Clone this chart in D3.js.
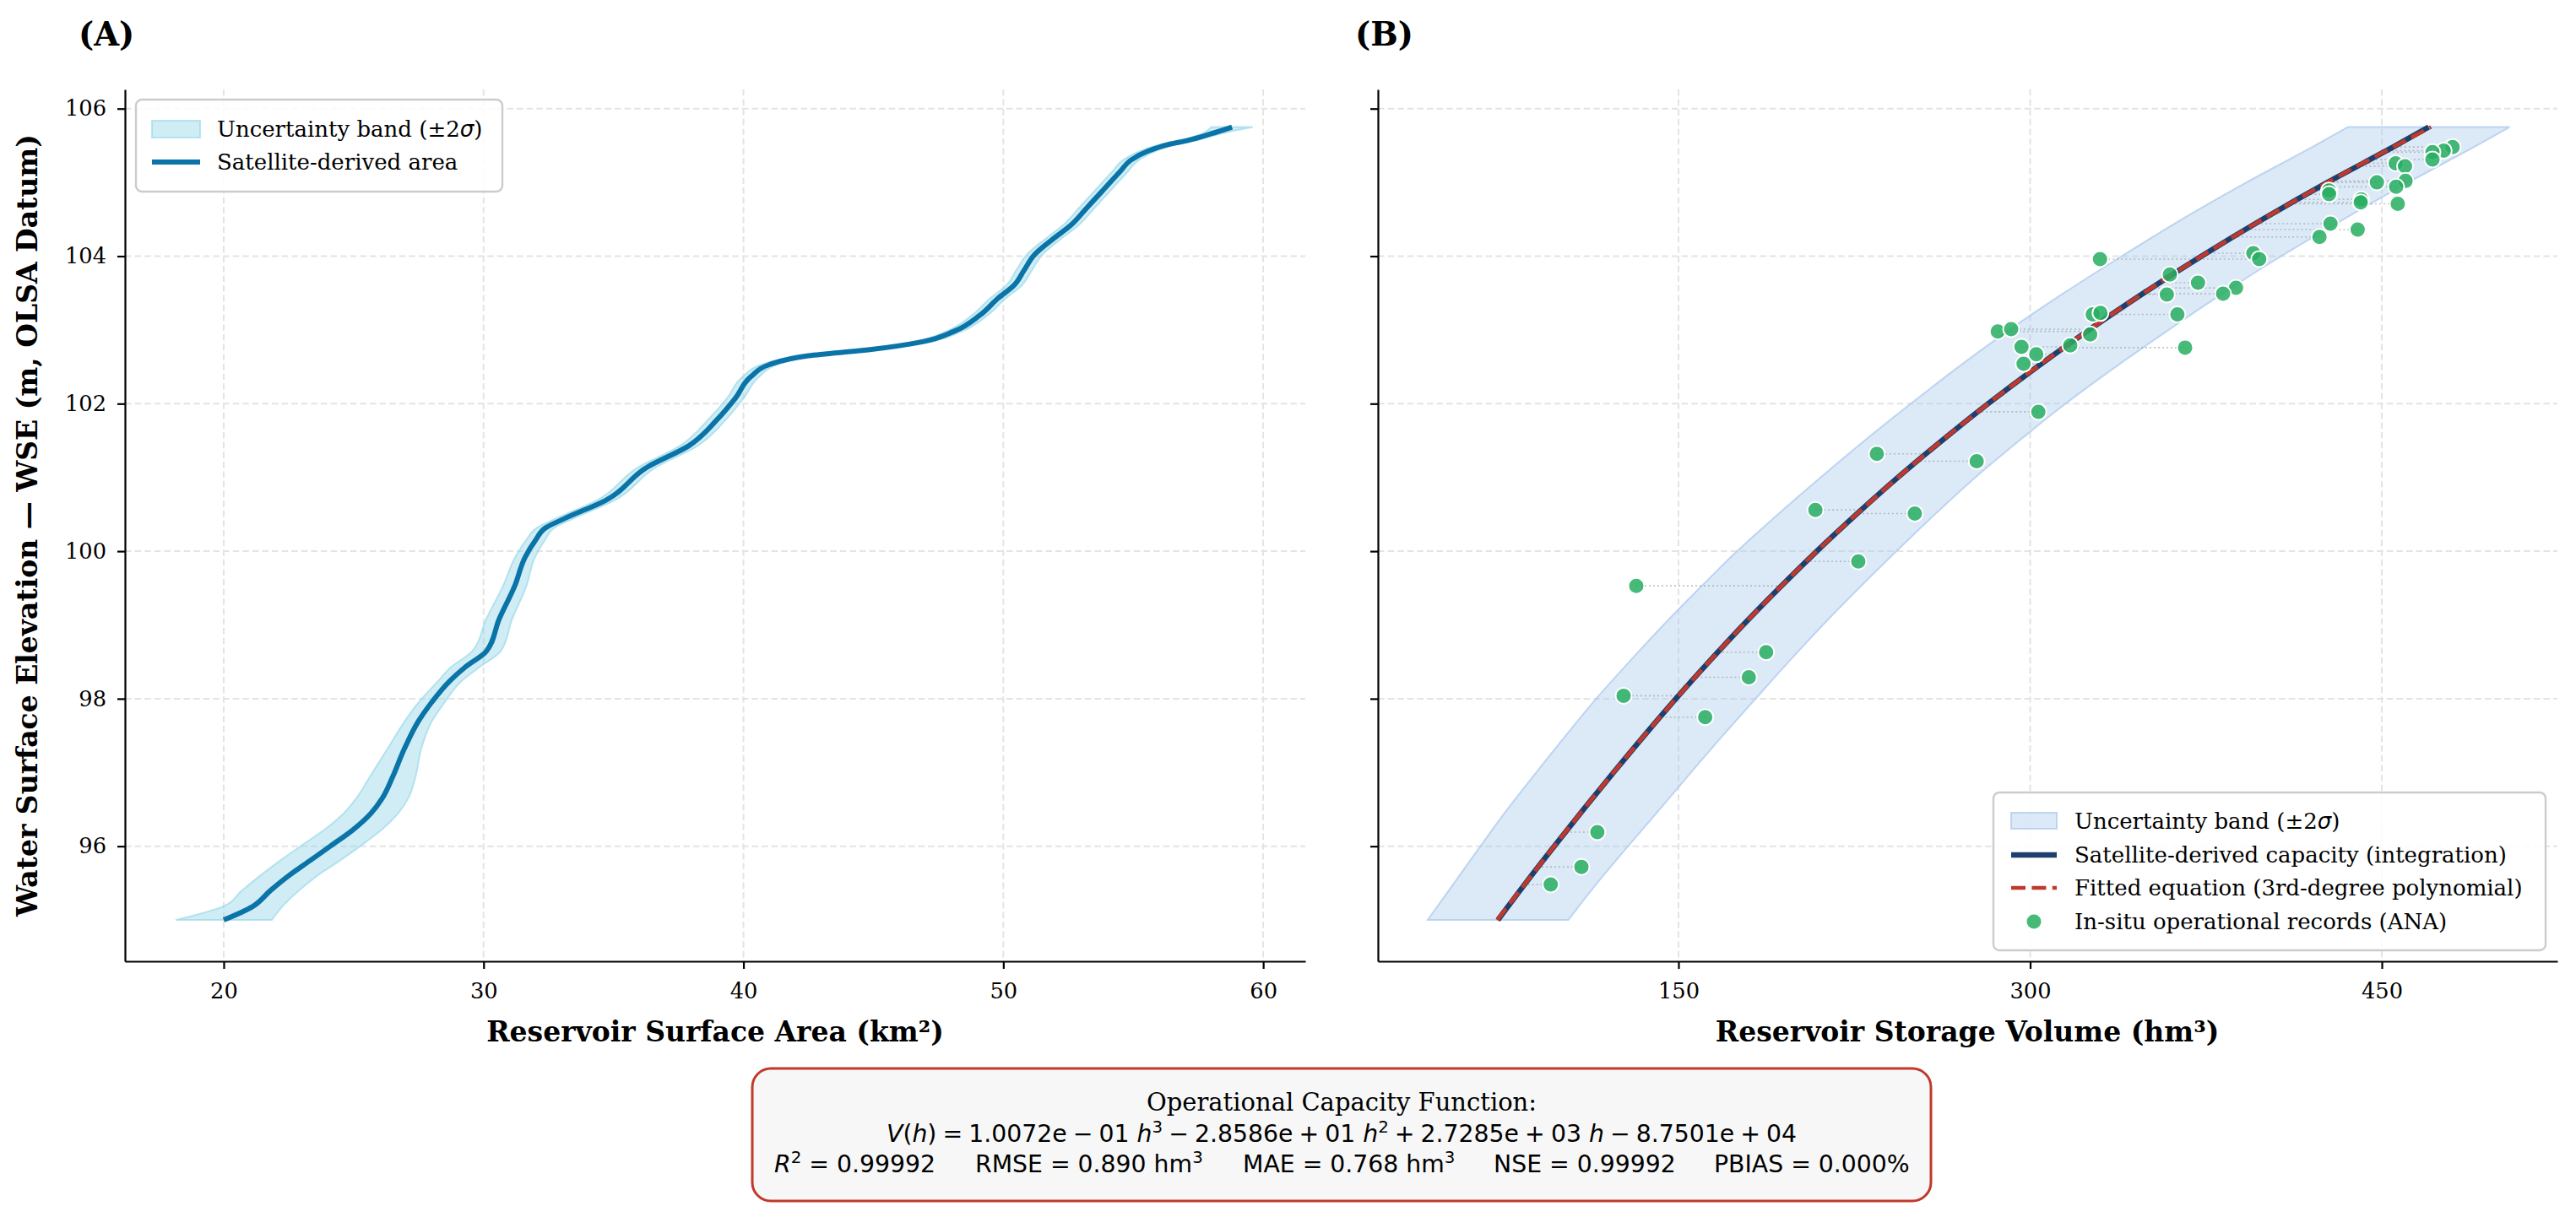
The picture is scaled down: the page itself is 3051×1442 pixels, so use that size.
<!DOCTYPE html>
<html lang="en">
  <head>
    <meta charset="utf-8">
    <title>Stage-area and stage-capacity curves</title>
    <script src="https://cdn.jsdelivr.net/npm/d3@7"></script>
    <style>
      body { margin: 0; background: #fff; }
      svg { display: block; background: #fff; }
      .axis text { font-family: 'DejaVu Serif', serif; font-size: 25.7px; fill: #000; }
      .axis path, .axis line { stroke: #000; stroke-width: 2.2; }
      .grid line { stroke: #e4e4e4; stroke-width: 2; stroke-dasharray: 7.6 4; }
      .label { font-family: 'DejaVu Serif', serif; font-weight: bold; font-size: 33px; }
      .panel { font-family: 'DejaVu Serif', serif; font-weight: bold; font-size: 38.5px; }
      .legend text { font-family: 'DejaVu Serif', serif; font-size: 26px; }
      .math { font-family: 'DejaVu Sans', sans-serif; font-size: 28.3px; white-space: pre; }
    </style>
  </head>

  <body>
    <svg></svg>

    <script>
    // Panel A: satellite-derived stage-area curve (WSE m, area km2) and its 2-sigma half width
    const areaStage = [95.0, 95.18, 95.4, 95.6, 95.8, 96.0, 96.23, 96.44, 96.65, 96.94,
      97.32, 97.7, 97.95, 98.24, 98.43, 98.64, 99.08, 99.53, 99.92, 100.15,
      100.32, 100.44, 100.69, 101.14, 101.43, 101.79, 102.08, 102.37, 102.53, 102.65,
      102.73, 102.84, 102.98, 103.2, 103.43, 103.6, 103.81, 104.02, 104.23, 104.42,
      104.65, 104.88, 105.15, 105.3, 105.43, 105.51, 105.57, 105.66, 105.75]
    const areaValue = [20.0, 21.1, 21.8, 22.5, 23.3, 24.1, 25.0, 25.65, 26.1, 26.5,
      26.95, 27.5, 28.0, 28.7, 29.3, 30.1, 30.6, 31.2, 31.6, 32.0,
      32.4, 33.1, 34.7, 36.3, 37.9, 39.0, 39.7, 40.3, 41.0, 42.5,
      44.8, 46.9, 48.1, 49.1, 49.8, 50.4, 50.8, 51.2, 51.9, 52.6,
      53.2, 53.8, 54.5, 54.9, 55.6, 56.3, 57.1, 58.0, 58.8]
    const areaBand = [1.85, 1.15, 1.1, 1.1, 1.15, 1.15, 1.1, 1.05, 1.0, 0.88,
      0.65, 0.52, 0.5, 0.45, 0.55, 0.55, 0.5, 0.45, 0.38, 0.36,
      0.34, 0.34, 0.34, 0.34, 0.34, 0.34, 0.32, 0.32, 0.3, 0.3,
      0.3, 0.3, 0.3, 0.3, 0.3, 0.3, 0.3, 0.3, 0.3, 0.3,
      0.3, 0.3, 0.3, 0.3, 0.3, 0.3, 0.3, 0.35, 0.8]

    // Panel B: capacity from integration, fitted polynomial, 2-sigma half width (hm3)
    const capStage = [95, 95.5, 96, 96.5, 97, 97.5, 98, 98.5, 99, 99.5, 100, 100.5,
      101, 101.5, 102, 102.5, 103, 103.5, 104, 104.5, 105, 105.5, 105.75]
    const satVolume = [73.0, 84.8, 97.0, 109.5, 122.3, 135.4, 148.9, 163.0, 177.6, 193.0, 209.0, 225.9,
      243.6, 262.4, 282.1, 303.0, 325.1, 348.4, 373.1, 399.2, 426.8, 456.0, 470.0]
    const fitVolume = [72.7, 84.8, 97.0, 109.5, 122.3, 135.4, 148.9, 163.0, 177.6, 193.0, 209.0, 225.9,
      243.6, 262.4, 282.1, 303.0, 325.1, 348.4, 373.1, 399.2, 426.8, 456.0, 471.0]
    const capBand = [30, 30.5, 31.5, 32.5, 33, 33.5, 34, 34, 34, 34, 34, 33.5,
      33, 33, 33, 33.5, 34, 34, 34, 34.5, 34.5, 34.5, 34.5]

    // In-situ operational records (ANA)
    const obsVolume = [480.2, 476.4, 471.6, 471.6, 455.9, 459.9, 460.1, 447.9, 456.1, 427.5,
      427.5, 441.2, 441.0, 456.8, 428.1, 439.7, 423.4, 329.8, 395.2, 397.7,
      359.6, 371.6, 387.8, 358.3, 382.3, 326.7, 330.0, 362.8, 286.2, 291.9,
      325.6, 296.3, 302.6, 297.2, 317.1, 366.1, 303.5, 234.6, 277.2, 208.4,
      250.8, 226.7, 132.0, 187.4, 180.0, 126.6, 161.4, 115.4, 108.6, 95.5]
    const obsStage = [105.48, 105.43, 105.41, 105.31, 105.26, 105.22, 105.02, 105.00, 104.94, 104.89,
      104.84, 104.77, 104.73, 104.71, 104.44, 104.36, 104.26, 103.96, 104.04, 103.96,
      103.75, 103.64, 103.57, 103.48, 103.49, 103.21, 103.23, 103.21, 102.98, 103.01,
      102.94, 102.77, 102.67, 102.54, 102.79, 102.76, 101.89, 101.32, 101.22, 100.56,
      100.51, 99.86, 99.53, 98.63, 98.29, 98.04, 97.75, 96.19, 95.72, 95.48]

    const yTicks = [96, 98, 100, 102, 104, 106]
    const areaTicks = [20, 30, 40, 50, 60]
    const volumeTicks = [150, 300, 450]

    const W = 3051, H = 1442
    const plotTop = 106, plotBottom = 1139

    const svg = d3.select('svg')
      .attr('width', W)
      .attr('height', H)

    const y = d3.scaleLinear().domain([94.44, 106.26]).range([plotBottom, plotTop])
    const xA = d3.scaleLinear().domain([16.2, 61.62]).range([148, 1546])
    const xV = d3.scaleLinear().domain([21.8, 524.9]).range([1632, 3029])

    function grid(x, ticks) {
      const g = svg.append('g').attr('class', 'grid')
      g.selectAll('.gx').data(ticks).join('line')
        .attr('x1', d => x(d)).attr('x2', d => x(d))
        .attr('y1', plotTop).attr('y2', plotBottom)
      g.selectAll('.gy').data(yTicks).join('line')
        .attr('x1', x.range()[0]).attr('x2', x.range()[1])
        .attr('y1', d => y(d)).attr('y2', d => y(d))
    }

    function axes(x, ticks, showY) {
      svg.append('g')
        .attr('class', 'axis')
        .attr('transform', `translate(0, ${plotBottom})`)
        .call(d3.axisBottom(x).tickValues(ticks).tickSize(9).tickSizeOuter(0).tickPadding(17))
      const ay = svg.append('g')
        .attr('class', 'axis')
        .attr('transform', `translate(${x.range()[0]}, 0)`)
        .call(d3.axisLeft(y).tickValues(yTicks).tickSize(9).tickSizeOuter(0).tickPadding(13))
      if (!showY) ay.selectAll('text').remove()
    }

    // ---------- Panel A ----------
    grid(xA, areaTicks)

    const areaBandPath = d3.area()
      .curve(d3.curveMonotoneY)
      .y((d, i) => y(areaStage[i]))
      .x0((d, i) => xA(areaValue[i] - areaBand[i]))
      .x1((d, i) => xA(areaValue[i] + areaBand[i]))

    svg.append('path')
      .attr('d', areaBandPath(areaStage))
      .attr('fill', '#90d5e6')
      .attr('fill-opacity', 0.42)
      .attr('stroke', '#90d5e6')
      .attr('stroke-opacity', 0.6)
      .attr('stroke-width', 2)

    const areaLine = d3.line()
      .curve(d3.curveMonotoneY)
      .x((d, i) => xA(areaValue[i]))
      .y((d, i) => y(areaStage[i]))

    svg.append('path')
      .attr('d', areaLine(areaStage))
      .attr('fill', 'none')
      .attr('stroke', '#0a74a8')
      .attr('stroke-width', 6)

    axes(xA, areaTicks, true)

    // ---------- Panel B ----------
    grid(xV, volumeTicks)

    const capBandPath = d3.area()
      .curve(d3.curveMonotoneY)
      .y((d, i) => y(capStage[i]))
      .x0((d, i) => xV(satVolume[i] - capBand[i]))
      .x1((d, i) => xV(satVolume[i] + capBand[i]))

    svg.append('path')
      .attr('d', capBandPath(capStage))
      .attr('fill', '#a8c8ec')
      .attr('fill-opacity', 0.4)
      .attr('stroke', '#a8c8ec')
      .attr('stroke-opacity', 0.7)
      .attr('stroke-width', 2)

    // residual guides from each record to the curve at the same stage
    const volumeAt = d3.scaleLinear().domain(capStage).range(satVolume)
    svg.append('g').selectAll('line')
      .data(obsVolume)
      .join('line')
        .attr('x1', d => xV(d))
        .attr('x2', (d, i) => xV(volumeAt(obsStage[i])))
        .attr('y1', (d, i) => y(obsStage[i]))
        .attr('y2', (d, i) => y(obsStage[i]))
        .attr('stroke', '#9a9a9a')
        .attr('stroke-opacity', 0.6)
        .attr('stroke-width', 1.6)
        .attr('stroke-dasharray', '2 3')

    const capLine = vals => d3.line()
      .curve(d3.curveMonotoneY)
      .x((d, i) => xV(vals[i]))
      .y((d, i) => y(capStage[i]))(capStage)

    svg.append('path')
      .attr('d', capLine(satVolume))
      .attr('fill', 'none')
      .attr('stroke', '#1c3f6e')
      .attr('stroke-width', 6.4)

    svg.append('path')
      .attr('d', capLine(fitVolume))
      .attr('fill', 'none')
      .attr('stroke', '#c0392b')
      .attr('stroke-width', 4.6)
      .attr('stroke-dasharray', '17 7.4')

    svg.append('g').selectAll('circle')
      .data(obsVolume)
      .join('circle')
        .attr('cx', d => xV(d))
        .attr('cy', (d, i) => y(obsStage[i]))
        .attr('r', 9.5)
        .attr('fill', '#27ae60')
        .attr('fill-opacity', 0.85)
        .attr('stroke', '#fff')
        .attr('stroke-width', 2)

    axes(xV, volumeTicks, false)

    // ---------- Labels ----------
    svg.append('text').attr('class', 'panel').attr('x', 93).attr('y', 54).text('(A)')
    svg.append('text').attr('class', 'panel').attr('x', 1605).attr('y', 54).text('(B)')

    svg.append('text').attr('class', 'label')
      .attr('x', 847).attr('y', 1234).attr('text-anchor', 'middle')
      .text('Reservoir Surface Area (km²)')
    svg.append('text').attr('class', 'label')
      .attr('x', 2330).attr('y', 1234).attr('text-anchor', 'middle')
      .text('Reservoir Storage Volume (hm³)')
    svg.append('text').attr('class', 'label')
      .attr('transform', `translate(44, ${(plotTop + plotBottom) / 2}) rotate(-90)`)
      .attr('text-anchor', 'middle')
      .text('Water Surface Elevation — WSE (m, OLSA Datum)')

    // ---------- Legends ----------
    function bandLabel(t) {
      t.append('tspan').text('Uncertainty band (±2')
      t.append('tspan').attr('font-family', 'DejaVu Sans').attr('font-style', 'italic').text('σ')
      t.append('tspan').text(')')
    }

    const legA = svg.append('g').attr('class', 'legend')
    legA.append('rect')
      .attr('x', 161).attr('y', 118).attr('width', 434).attr('height', 109).attr('rx', 7)
      .attr('fill', '#fff').attr('fill-opacity', 0.85)
      .attr('stroke', '#cccccc').attr('stroke-width', 2.4)
    legA.append('rect')
      .attr('x', 180).attr('y', 143).attr('width', 57).attr('height', 20)
      .attr('fill', '#90d5e6').attr('fill-opacity', 0.42)
      .attr('stroke', '#90d5e6').attr('stroke-opacity', 0.6).attr('stroke-width', 2)
    bandLabel(legA.append('text').attr('x', 257).attr('y', 162))
    legA.append('line')
      .attr('x1', 180).attr('x2', 237).attr('y1', 192).attr('y2', 192)
      .attr('stroke', '#0a74a8').attr('stroke-width', 6)
    legA.append('text').attr('x', 257).attr('y', 201).text('Satellite-derived area')

    const legB = svg.append('g').attr('class', 'legend')
    legB.append('rect')
      .attr('x', 2361).attr('y', 939).attr('width', 654).attr('height', 187).attr('rx', 7)
      .attr('fill', '#fff').attr('fill-opacity', 0.85)
      .attr('stroke', '#cccccc').attr('stroke-width', 2.4)
    legB.append('rect')
      .attr('x', 2382).attr('y', 963).attr('width', 54).attr('height', 19)
      .attr('fill', '#a8c8ec').attr('fill-opacity', 0.4)
      .attr('stroke', '#a8c8ec').attr('stroke-opacity', 0.7).attr('stroke-width', 2)
    bandLabel(legB.append('text').attr('x', 2457).attr('y', 982))
    legB.append('line')
      .attr('x1', 2382).attr('x2', 2436).attr('y1', 1013).attr('y2', 1013)
      .attr('stroke', '#1c3f6e').attr('stroke-width', 6.4)
    legB.append('text').attr('x', 2457).attr('y', 1022).text('Satellite-derived capacity (integration)')
    legB.append('line')
      .attr('x1', 2382).attr('x2', 2436).attr('y1', 1052).attr('y2', 1052)
      .attr('stroke', '#c0392b').attr('stroke-width', 4.6).attr('stroke-dasharray', '17 7.4')
    legB.append('text').attr('x', 2457).attr('y', 1061).text('Fitted equation (3rd-degree polynomial)')
    legB.append('circle')
      .attr('cx', 2409).attr('cy', 1092).attr('r', 9.5)
      .attr('fill', '#27ae60').attr('fill-opacity', 0.85)
      .attr('stroke', '#fff').attr('stroke-width', 2)
    legB.append('text').attr('x', 2457).attr('y', 1101).text('In-situ operational records (ANA)')

    // ---------- Equation box ----------
    const box = svg.append('g')
    box.append('rect')
      .attr('x', 891).attr('y', 1266).attr('width', 1396).attr('height', 157).attr('rx', 22)
      .attr('fill', '#f7f7f7')
      .attr('stroke', '#c0392b').attr('stroke-width', 3)

    box.append('text')
      .attr('x', 1589).attr('y', 1316).attr('text-anchor', 'middle')
      .attr('font-family', 'DejaVu Serif').attr('font-size', 29)
      .text('Operational Capacity Function:')

    // math-style spacing: four-per-em spaces round the binary operators
    const sp = '\u2005'
    const eqParts = [
      { t: 'V', it: true }, { t: '(' }, { t: 'h', it: true },
      { t: `)${sp}=${sp}1.0072e${sp}−${sp}01 ` }, { t: 'h', it: true }, { t: '3', sup: true },
      { t: `${sp}−${sp}2.8586e${sp}+${sp}01 ` }, { t: 'h', it: true }, { t: '2', sup: true },
      { t: `${sp}+${sp}2.7285e${sp}+${sp}03 ` }, { t: 'h', it: true },
      { t: `${sp}−${sp}8.7501e${sp}+${sp}04` }
    ]
    const eq = box.append('text')
      .attr('class', 'math')
      .attr('x', 1589).attr('y', 1353).attr('text-anchor', 'middle')
      .attr('xml:space', 'preserve')
    let raised = false
    eqParts.forEach(p => {
      const s = eq.append('tspan').text(p.t)
      if (p.it) s.attr('font-style', 'italic')
      if (p.sup) { s.attr('font-size', 19.8).attr('dy', -11); raised = true }
      else if (raised) { s.attr('dy', 11); raised = false }
    })

    const stats = [
      { x: 917, parts: [{ t: 'R', it: true }, { t: '2', sup: true }, { t: ' = 0.99992' }] },
      { x: 1155, parts: [{ t: 'RMSE = 0.890 hm' }, { t: '3', sup: true }] },
      { x: 1472, parts: [{ t: 'MAE = 0.768 hm' }, { t: '3', sup: true }] },
      { x: 1769, parts: [{ t: 'NSE = 0.99992' }] },
      { x: 2030, parts: [{ t: 'PBIAS = 0.000%' }] }
    ]
    stats.forEach(st => {
      const t = box.append('text')
        .attr('class', 'math')
        .attr('x', st.x).attr('y', 1389)
        .attr('xml:space', 'preserve')
      let up = false
      st.parts.forEach(p => {
        const s = t.append('tspan').text(p.t)
        if (p.it) s.attr('font-style', 'italic')
        if (p.sup) { s.attr('font-size', 19.8).attr('dy', -11); up = true }
        else if (up) { s.attr('dy', 11); up = false }
      })
    })
    </script>
  </body>
</html>
